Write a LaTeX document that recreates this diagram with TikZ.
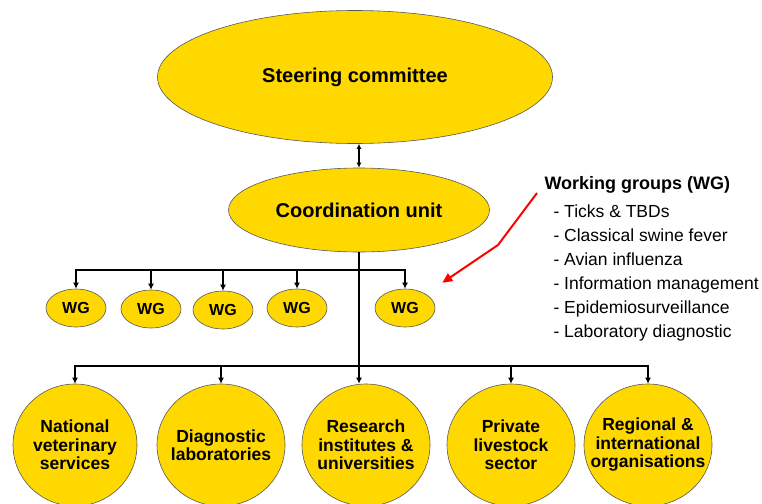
\documentclass[tikz,border=0pt]{standalone}
\usepackage{fontspec}
\setmainfont{Liberation Sans}
\usetikzlibrary{shapes.geometric,arrows.meta}
\definecolor{gold}{RGB}{255,216,0}
\begin{document}
\begin{tikzpicture}[x = 1pt, y = -1pt,
  blob/.style = {ellipse, draw = black!65, fill = gold, line width = 0.6pt,
    inner sep = 0pt, align = center},
  link/.style = {line width = 1.4pt, -{Latex[length = 6pt, width = 6pt]}},
  tie/.style = {line width = 1.4pt, {Latex[length = 5pt, width = 5pt]}-{Latex[length = 5pt, width = 5pt]}},
  big/.style = {font = \bfseries\fontsize{20}{24}\selectfont},
  body/.style = {font = \bfseries\fontsize{17.5}{18.5}\selectfont,
    inner xsep = -24pt, inner ysep = -20pt}
]
  \useasboundingbox (0,0) rectangle (762,503);
  \node[blob, big, minimum width = 395pt, minimum height = 133pt] (steer) at (355,77) {Steering committee};
  \node[blob, big, minimum width = 261pt, minimum height = 84pt] (coord) at (359,210) {Coordination unit};
  \foreach \x/\y [count = \i] in {76/308, 151/309, 223/310, 297/308, 405/308}
    \node[blob, minimum width = 60pt, minimum height = 38pt, font = \bfseries\fontsize{16}{18}\selectfont]
      (wg\i) at (\x,\y) {WG};
  \node[blob, body, minimum width = 124pt, minimum height = 122pt] (nvs) at (75,445) {National\\veterinary\\services};
  \node[blob, body, minimum width = 128pt, minimum height = 122pt] (diag) at (221,445) {Diagnostic\\laboratories};
  \node[blob, body, minimum width = 128pt, minimum height = 122pt] (res) at (366,445) {Research\\institutes \&\\universities};
  \node[blob, body, minimum width = 128pt, minimum height = 122pt] (priv) at (511,445) {Private\\livestock\\sector};
  \node[blob, body, minimum width = 128pt, minimum height = 122pt] (reg) at (648,445) {Regional \&\\international\\organisations};
  \coordinate (wgbus) at (361,270);
  \coordinate (orgbus) at (361,366);
  \draw[tie] (coord) -- (coord |- steer.south);
  \draw[link] (coord) -- (coord |- res.north);
  \foreach \i in {1,...,5}
    \draw[link] (wgbus) -| (wg\i);
  \foreach \n in {nvs, diag, priv, reg}
    \draw[link] (orgbus) -| (\n);
  \node[anchor = base west, font = \bfseries\fontsize{18}{22}\selectfont] (wghead) at (541,189) {Working groups (WG)};
  \foreach \t [count = \i] in {Ticks \& TBDs, Classical swine fever, Avian influenza,
      Information management, Epidemiosurveillance, Laboratory diagnostic}
    \node[anchor = base west, font = \fontsize{17.5}{21}\selectfont] (item\i) at (550,193+24*\i) {- \t};
  \coordinate (redtail) at (537,193);
  \coordinate (kink) at (498,245);
  \draw[red, line width = 2pt, -{Triangle[length = 10pt, width = 9pt]}, shorten > = 20pt]
    (redtail) -- (kink) -- (wg5);
\end{tikzpicture}
\end{document}
